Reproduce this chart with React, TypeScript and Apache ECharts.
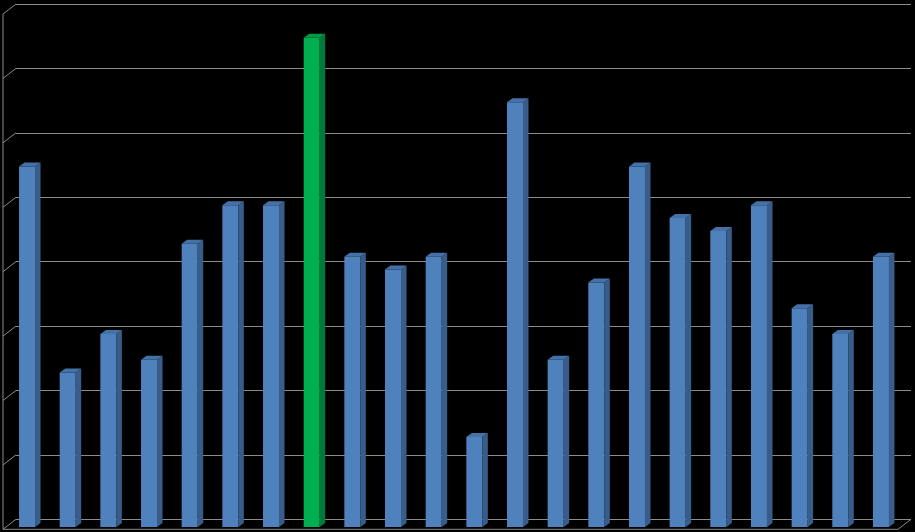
import React, { useEffect, useRef } from "react";
import * as echarts from "echarts";

const categories = ["1","2","3","4","5","6","7","8","9","10","11","12","13","14","15","16","17","18","19","20","21","22"];
const values = [5.6, 2.4, 3.0, 2.6, 4.4, 5.0, 5.0, 7.6, 4.2, 4.0, 4.2, 1.4, 6.6, 2.6, 3.8, 5.6, 4.8, 4.6, 5.0, 3.4, 3.0, 4.2];
const highlighted = ["8"];
const tickValues = [0, 1, 2, 3, 4, 5, 6, 7, 8];

const BLUE = { front: "#4F81BD", side: "#385D8A", top: "#4471A8" };
const GREEN = { front: "#00B050", side: "#007A3A", top: "#009A46" };
const LINE = "#8C8C8C";
const WALL_DX = -13;
const WALL_DY = 10;

export default function App() {
  const ref = useRef<HTMLDivElement>(null);
  useEffect(() => {
    if (!ref.current) return;
    const chart = echarts.init(ref.current, null, { renderer: "svg" });
    chart.setOption({
      animation: false,
      backgroundColor: "#000000",
      grid: [
        { left: 16, right: 4, top: 4, bottom: 12.7 },
        { left: 6.7, right: 13.7, top: 12, bottom: 5 },
      ],
      xAxis: [
        { type: "value", gridIndex: 0, min: 0, max: 1, show: false },
        { type: "category", gridIndex: 1, data: categories, show: false, boundaryGap: true },
      ],
      yAxis: [
        {
          type: "value", gridIndex: 0, min: 0, max: 8, interval: 1,
          axisLine: { show: false }, axisTick: { show: false }, axisLabel: { show: false },
          splitLine: { show: true, lineStyle: { color: LINE, width: 1 } },
        },
        { type: "value", gridIndex: 1, min: 0, max: 8, interval: 1, show: false, splitLine: { show: false } },
      ],
      series: [
        {
          type: "custom",
          xAxisIndex: 0,
          yAxisIndex: 0,
          data: tickValues.map((t) => [0, t]),
          renderItem: (params: any, api: any) => {
            const v = api.value(1);
            const p = api.coord([0, v]);
            const children: any[] = [
              { type: "line", shape: { x1: p[0], y1: p[1], x2: p[0] + WALL_DX, y2: p[1] + WALL_DY }, style: { stroke: LINE, lineWidth: 1 } },
            ];
            if (v === 0) {
              const r = api.coord([1, 0]);
              const topP = api.coord([0, tickValues[tickValues.length - 1]]);
              children.push(
                { type: "line", shape: { x1: p[0] + WALL_DX, y1: p[1] + WALL_DY, x2: r[0] + WALL_DX, y2: r[1] + WALL_DY }, style: { stroke: LINE, lineWidth: 1 } },
                { type: "line", shape: { x1: r[0], y1: r[1], x2: r[0] + WALL_DX, y2: r[1] + WALL_DY }, style: { stroke: LINE, lineWidth: 1 } },
                { type: "line", shape: { x1: topP[0] + WALL_DX, y1: topP[1] + WALL_DY, x2: p[0] + WALL_DX, y2: p[1] + WALL_DY }, style: { stroke: LINE, lineWidth: 1 } }
              );
            }
            return { type: "group", children };
          },
          silent: true,
        },
        {
          type: "custom",
          xAxisIndex: 1,
          yAxisIndex: 1,
          data: values.map((v, i) => [i, v]),
          renderItem: (params: any, api: any) => {
            const i = api.value(0);
            const v = api.value(1);
            const top = api.coord([i, v]);
            const base = api.coord([i, 0]);
            const w = 16;
            const dx = 5.5;
            const dy = -4;
            const c = highlighted.includes(categories[i]) ? GREEN : BLUE;
            const xl = top[0] - w / 2;
            const xr = top[0] + w / 2;
            return {
              type: "group",
              children: [
                { type: "rect", shape: { x: xl, y: top[1], width: w, height: base[1] - top[1] }, style: { fill: c.front } },
                { type: "polygon", shape: { points: [[xr, top[1]], [xr + dx, top[1] + dy], [xr + dx, base[1] + dy], [xr, base[1]]] }, style: { fill: c.side } },
                { type: "polygon", shape: { points: [[xl, top[1]], [xl + dx, top[1] + dy], [xr + dx, top[1] + dy], [xr, top[1]]] }, style: { fill: c.top } },
              ],
            };
          },
        },
      ],
    });
    return () => chart.dispose();
  }, []);
  return <div ref={ref} style={{ position: "fixed", left: 0, top: 0, width: 915, height: 532 }} />;
}
